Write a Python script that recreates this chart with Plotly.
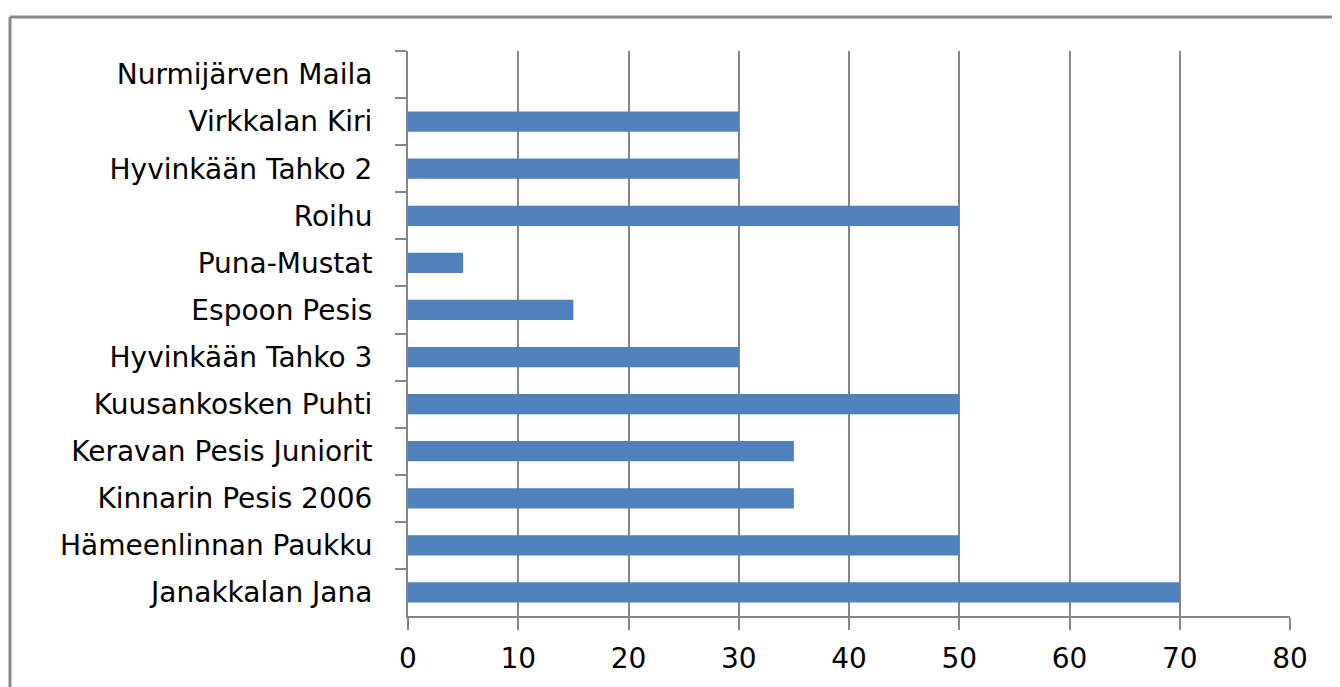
import plotly.graph_objects as go

teams = ["Nurmijärven Maila", "Virkkalan Kiri", "Hyvinkään Tahko 2", "Roihu", "Puna-Mustat",
         "Espoon Pesis", "Hyvinkään Tahko 3", "Kuusankosken Puhti", "Keravan Pesis Juniorit",
         "Kinnarin Pesis 2006", "Hämeenlinnan Paukku", "Janakkalan Jana"]
values = [0, 30, 30, 50, 5, 15, 30, 50, 35, 35, 50, 70]
x_ticks = [0, 10, 20, 30, 40, 50, 60, 70, 80]

GRAY = "#868686"
PW, PH = 882, 565
BX0, BY1 = -398 / PW, 1 + 34 / PH

fig = go.Figure(go.Bar(
    y=teams, x=values, orientation="h",
    marker=dict(color="#4F81BD", line=dict(width=0)),
))

fig.update_layout(
    width=1332, height=679,
    margin=dict(l=400, r=50, t=43, b=71),
    paper_bgcolor="white", plot_bgcolor="white",
    bargap=0.57,
    showlegend=False,
    font=dict(family="DejaVu Sans", color="#000000"),
    shapes=[
        dict(type="line", xref="paper", yref="paper",
             x0=BX0, x1=1.0 + 60 / PW, y0=BY1, y1=BY1,
             line=dict(color="#888888", width=3), layer="below"),
        dict(type="line", xref="paper", yref="paper",
             x0=BX0, x1=BX0, y0=-90 / PH, y1=BY1,
             line=dict(color="#888888", width=3), layer="below"),
    ],
)

fig.update_xaxes(
    range=[0, 80], tickvals=x_ticks, ticktext=[str(v) for v in x_ticks],
    showgrid=True, gridcolor=GRAY, gridwidth=2,
    showline=True, linecolor=GRAY, linewidth=2,
    ticks="outside", ticklen=12, tickcolor=GRAY, tickwidth=2,
    tickfont=dict(size=28, family="DejaVu Sans", color="#000000"),
    ticklabelstandoff=4,
    zeroline=False,
)
fig.update_yaxes(
    autorange="reversed",
    showgrid=False,
    showline=True, linecolor=GRAY, linewidth=2,
    ticks="outside", ticklen=11, tickcolor=GRAY, tickwidth=2,
    tickson="boundaries",
    tickfont=dict(size=28, family="DejaVu Sans", color="#000000"),
    ticklabelstandoff=28,
)

fig.write_html("out.html")
